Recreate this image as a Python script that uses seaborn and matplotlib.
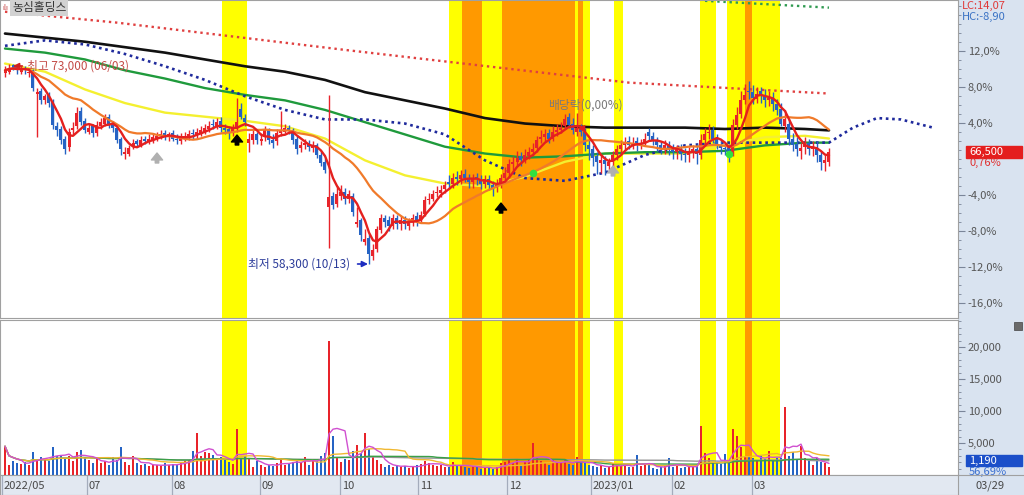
import numpy as np
import pandas as pd
import matplotlib
matplotlib.use("Agg")
import matplotlib.pyplot as plt
import matplotlib.transforms as mtransforms
from matplotlib.patches import Rectangle
import seaborn as sns

sns.set_theme(style="white")
plt.rcParams['font.family'] = ['Noto Sans CJK KR', 'DejaVu Sans']
plt.rcParams['axes.unicode_minus'] = False

# ---------------- data ----------------
title = "농심홀딩스"
base_price = 66000          # 0 % reference of the right-hand scale
month_labels = ['2022/05', '07', '08', '09', '10', '11', '12', '2023/01', '02', '03']
month_start = [-0.75, 20.5, 41.75, 63.75, 83.75, 103.25, 125.5, 146.5, 166.75, 186.75]
last_date = "03/29"

open_ = [
    72300, 72400, 72900, 72800, 72400, 72700, 72300, 72500, 70800, 71000,
    70300, 70700, 70200, 68400, 68200, 67500, 66900, 68100, 68400, 69500,
    68800, 68000, 68400, 67900, 68400, 68600, 69100, 68600, 68300, 67500,
    66400, 66400, 66900, 67300, 67000, 67500, 67300, 67400, 67500, 67700,
    67900, 67600, 67900, 67500, 67300, 67500, 67600, 67900, 67700, 67900,
    68000, 68200, 68600, 68400, 68800, 68300, 68200, 67900, 68200, 69700,
    69000, 67200, 67400, 67800, 67300, 67600, 68100, 67400, 67300, 67900,
    68000, 68300, 68100, 67500, 66800, 67000, 67200, 66800, 67000, 66300,
    65800, 62500, 63300, 62700, 63300, 63600, 63100, 63300, 61200, 61500,
    59900, 60200, 58900, 59400, 60800, 61700, 61500, 61100, 61700, 61200,
    61500, 61100, 61400, 61800, 61500, 62000, 63000, 63100, 63500, 63500,
    63800, 64300, 64200, 64700, 64500, 64900, 64600, 64300, 64700, 64500,
    64200, 64500, 64100, 63900, 64200, 64600, 65000, 65600, 65800, 66200,
    65900, 66200, 66500, 66800, 67500, 67600, 67900, 67500, 68000, 68100,
    68400, 69100, 68600, 68000, 68300, 68000, 67000, 66700, 66200, 65700,
    65900, 65500, 65800, 66300, 66700, 67000, 67300, 67000, 67300, 67000,
    67200, 68000, 67700, 67400, 67000, 66800, 67000, 66700, 66500, 66700,
    66400, 66300, 66500, 66700, 66300, 67400, 67900, 68100, 67500, 67000,
    66800, 66900, 66400, 68500, 69300, 70300, 71000, 70900, 70400, 71000,
    70700, 70300, 70500, 70000, 69700, 68400, 68600, 67500, 67100, 66600,
    66900, 67200, 66700, 66900, 66300, 65700, 65800]

high = [
    72800, 73000, 73000, 72900, 72800, 72800, 72600, 72600, 71200, 71200,
    70800, 70900, 70400, 68700, 68400, 67700, 68300, 68700, 69800, 69800,
    69000, 68600, 68600, 68800, 69000, 69300, 69300, 68800, 68500, 67600,
    66900, 67000, 67500, 67500, 67700, 67700, 67800, 67900, 68000, 68100,
    68100, 68000, 68100, 67800, 67900, 68000, 68100, 68200, 68300, 68400,
    68600, 68800, 68900, 69000, 69100, 68600, 68400, 68600, 70500, 70100,
    69300, 67900, 68100, 68000, 67900, 68400, 68300, 67800, 68200, 69500,
    68600, 68500, 68300, 67700, 67300, 67500, 67400, 67300, 67200, 66600,
    66100, 70700, 63600, 64000, 64100, 63900, 63700, 63500, 62500, 61700,
    60900, 60500, 59800, 61100, 62000, 61900, 61800, 62000, 61900, 61800,
    61800, 61700, 62000, 62100, 62200, 63300, 63500, 63700, 64000, 64100,
    64400, 64800, 65000, 65100, 65200, 65300, 64900, 64900, 65000, 64800,
    64800, 64800, 64400, 64500, 64900, 65400, 66000, 66200, 66600, 66500,
    66700, 66900, 67200, 67700, 68100, 68200, 68200, 68400, 68600, 68700,
    69300, 69400, 69000, 69400, 68600, 68300, 67400, 67000, 66500, 66300,
    66200, 66100, 66600, 67000, 67400, 67600, 67700, 67600, 67600, 67500,
    67900, 68300, 68000, 67600, 67300, 67400, 67300, 67100, 67000, 67100,
    66800, 66900, 67000, 67100, 67800, 68300, 68600, 68400, 67800, 67400,
    67200, 67100, 68900, 69800, 71000, 71500, 71700, 71400, 71300, 71300,
    71100, 71000, 70900, 70400, 70100, 69600, 68900, 67900, 67600, 67200,
    67600, 67500, 67300, 67300, 66600, 66300, 66800]

low = [
    72000, 72200, 72500, 72200, 72200, 72200, 72000, 71000, 67600, 70000,
    70000, 69800, 68200, 67700, 67100, 66400, 66600, 67800, 68200, 68500,
    67900, 67800, 67600, 67700, 68200, 68400, 68300, 68000, 67200, 66300,
    66000, 66200, 66700, 66900, 66900, 67100, 67100, 67200, 67300, 67500,
    67400, 67300, 67300, 67100, 67100, 67300, 67400, 67500, 67500, 67700,
    67800, 68000, 68200, 68200, 68000, 67800, 67500, 67700, 68000, 68900,
    68400, 66500, 67100, 67100, 67000, 67300, 67100, 66800, 67000, 67700,
    67900, 67800, 67100, 66400, 66500, 66700, 66600, 66500, 66100, 65500,
    65000, 59500, 62300, 62500, 63000, 62700, 62800, 61800, 61000, 60000,
    59700, 58300, 58600, 59200, 60600, 61000, 60700, 60900, 60900, 60800,
    60900, 60800, 61100, 61100, 61300, 61800, 62700, 62900, 63200, 63200,
    63500, 63800, 63900, 64100, 64200, 64300, 63900, 63900, 64100, 63800,
    63900, 63700, 63300, 63600, 63900, 64300, 64700, 65200, 65500, 65500,
    65700, 66000, 66200, 66500, 67200, 67300, 67200, 67300, 67700, 67900,
    68200, 68300, 67800, 67700, 67700, 66600, 65900, 65500, 64900, 65000,
    64800, 65100, 65400, 65900, 66400, 66700, 66700, 66700, 66600, 66700,
    67000, 67400, 67000, 66600, 66400, 66400, 66300, 66000, 66000, 65900,
    65800, 65800, 66100, 65600, 66000, 67000, 67500, 67200, 66700, 66400,
    66300, 65800, 66200, 68200, 69000, 70000, 70400, 70000, 70100, 70100,
    69800, 69900, 69500, 69200, 68400, 68000, 67000, 66600, 66200, 66000,
    66400, 66300, 66200, 65800, 65200, 65100, 65500]

close = [
    72500, 72700, 72700, 72500, 72600, 72500, 72400, 71200, 70900, 70300,
    70600, 70100, 68500, 68100, 67400, 66700, 68000, 68300, 69400, 68700,
    68100, 68300, 67900, 68500, 68700, 69000, 68500, 68300, 67400, 66700,
    66500, 66800, 67200, 67100, 67400, 67300, 67500, 67600, 67700, 67800,
    67700, 67800, 67500, 67400, 67600, 67700, 67800, 67800, 68000, 68100,
    68300, 68400, 68500, 68700, 68300, 68100, 68000, 68300, 68700, 69100,
    68700, 67500, 67800, 67400, 67500, 68100, 67400, 67200, 67900, 68100,
    68300, 68100, 67400, 66700, 67000, 67200, 66900, 67000, 66300, 65700,
    65200, 63200, 62600, 63400, 63600, 63100, 63400, 62100, 61400, 60400,
    60100, 59000, 59300, 60900, 61700, 61400, 61100, 61700, 61200, 61500,
    61200, 61400, 61700, 61500, 61900, 63000, 63100, 63400, 63600, 63700,
    64100, 64200, 64600, 64500, 64800, 64600, 64300, 64600, 64500, 64200,
    64500, 64100, 63900, 64100, 64600, 65000, 65600, 65800, 66100, 65900,
    66300, 66500, 66700, 67400, 67600, 67800, 67500, 68000, 68100, 68300,
    68900, 68500, 68100, 68300, 68000, 67000, 66700, 66100, 65800, 65900,
    65600, 65800, 66300, 66700, 67000, 67200, 67000, 67200, 67000, 67200,
    67500, 67700, 67400, 67000, 66800, 67000, 66700, 66500, 66700, 66400,
    66300, 66500, 66700, 66400, 67400, 67800, 68000, 67500, 67000, 66800,
    66700, 66300, 68500, 69200, 70300, 70700, 70900, 70500, 70800, 70600,
    70300, 70500, 70000, 69600, 68600, 68900, 67500, 67000, 66700, 66800,
    67200, 66700, 66900, 66300, 65800, 65900, 66500]

volume = [
    4500, 1500, 2200, 1800, 1700, 2000, 1600, 3600, 2300, 2800,
    2500, 2200, 4400, 3000, 3200, 2700, 3000, 2200, 3600, 3900,
    2600, 2400, 1800, 2500, 1900, 2200, 1500, 2800, 2400, 4400,
    2000, 1500, 3000, 1800, 1600, 1700, 1400, 1500, 1600, 1400,
    1800, 1500, 1700, 1600, 2000, 2200, 2400, 3800, 6600, 3000,
    3600, 3500, 3100, 2500, 2800, 2400, 2000, 1700, 7200, 2600,
    2900, 2500, 1200, 2200, 1500, 1300, 1600, 1400, 1800, 2600,
    1500, 1700, 2000, 2400, 2100, 2800, 1500, 2400, 2200, 3000,
    3500, 21000, 6100, 2800, 2100, 2500, 2400, 3800, 4700, 3400,
    6500, 4100, 2900, 2300, 1700, 1200, 1500, 1300, 1600, 1200,
    1400, 1100, 1300, 1500, 1700, 2200, 1900, 1500, 1400, 1600,
    1300, 1200, 2000, 1400, 1600, 1300, 1100, 1500, 1200, 1000,
    1200, 1100, 900, 1300, 1800, 2000, 2500, 1900, 2300, 1600,
    2100, 2400, 5000, 2600, 2200, 1900, 1600, 2400, 1800, 2000,
    2500, 1700, 1500, 2800, 1800, 2000, 1600, 1400, 1200, 1500,
    1100, 1300, 1800, 1600, 1400, 1500, 1200, 1300, 3100, 1400,
    1600, 1500, 1100, 1000, 1200, 1400, 2600, 1300, 1500, 1100,
    1200, 1400, 1300, 1500, 7600, 3400, 2600, 2000, 1800, 1700,
    3300, 2400, 7200, 6100, 4300, 3000, 2800, 2600, 2400, 2900,
    2500, 3700, 2300, 2600, 2700, 10600, 3000, 3600, 2400, 4500,
    2700, 2300, 1500, 2600, 2000, 1800, 1190]
volume_ratio_label = "56,69%"

# long moving averages / guide lines (sampled every 10 sessions)
line_idx = [0, 10, 20, 30, 40, 50, 60, 70, 80, 90, 100, 110, 120, 130,
            140, 150, 160, 170, 180, 190, 200, 206]
ma60 = [73000, 72400, 71100, 70100, 69400, 69100, 68800, 68400, 67500, 65900, 64800,
        64200, 64000, 64700, 65800, 66400, 66400, 66400, 67000, 67600, 67700, 67500]
ma120 = [74100, 73800, 73300, 72500, 71900, 71200, 70700, 70300, 69600, 68700, 67800,
         66900, 66400, 66100, 66200, 66400, 66500, 66500, 66600, 67000, 67200, 67200]
ma240 = [75200, 74900, 74600, 74200, 73800, 73300, 72800, 72400, 71800, 70900, 70300,
         69700, 69000, 68600, 68400, 68300, 68300, 68300, 68200, 68300, 68200, 68100]
lead_idx = line_idx + [212, 218, 224, 232]
lead_line = [74300, 74700, 74400, 73700, 72800, 71800, 70600, 69600, 68900, 68900, 68600,
             67800, 65900, 64600, 64400, 65000, 66300, 67000, 67200, 67200, 67200, 67200,
             68300, 69000, 68900, 68300]
upper_idx = [0, 28, 85, 156, 206]
upper_line = [76800, 76000, 74000, 71600, 70800]
upper2_idx = [175, 206]
upper2_line = [77600, 77100]

# highlighted periods (session index ranges)
band_start = [54.25, 111.0, 114.25, 119.25, 124.25, 142.5, 143.25, 144.5, 152.25, 173.75, 180.5, 185.0, 186.75]
band_end   = [60.5, 114.25, 119.25, 124.25, 142.5, 143.25, 144.5, 146.25, 154.5, 177.75, 185.0, 186.75, 193.75]
band_kind  = ['Y', 'Y', 'O', 'Y', 'O', 'Y', 'O', 'Y', 'Y', 'Y', 'Y', 'O', 'Y']

# signals
buy_idx, buy_price = [58, 124], [67760, 62770]
gray_idx, gray_price = [38, 152], [66440, 65490]
green_idx, green_price = [132, 181], [65000, 66400]
div_idx, div_price = [144], [68300]
high_label = "최고 73,000 (06/03)"
high_point = (2.0, 72820)
low_label = "최저 58,300 (10/13)"
low_point = (90.75, 58300)
div_label = "배당락(0,00%)"
lc_text, hc_text = "LC:14,07", "HC:-8,90"

# ---------------- figure ----------------
W, H = 1024, 495
fig = plt.figure(figsize=(W / 100, H / 100), dpi=100)
fig.patch.set_facecolor('white')


def px_axes(x0, y0, x1, y1):
    return fig.add_axes([x0 / W, 1 - y1 / H, (x1 - x0) / W, (y1 - y0) / H])


side = px_axes(958, 0, 1024, 495)
side.set_facecolor('#d9e3f0')
side.set_xticks([]); side.set_yticks([])
for s in side.spines.values():
    s.set_visible(False)

ax = px_axes(0, 0, 958, 318)
axv = px_axes(0, 320, 958, 475)
axd = px_axes(0, 475, 958, 495)

RED, BLUE = '#e8232a', '#2563c4'
idx = np.arange(len(close))
o = np.array(open_); c = np.array(close); hi = np.array(high); lo = np.array(low)
up = c >= o
cols = np.where(up, RED, BLUE)

xlim = (-1.25, 238.25)
price_per_px = base_price * 0.01 / 9
ylim = (base_price * (1 - 159 / 900), base_price * (1 + 159 / 900))

# bands
for s, e, k in zip(band_start, band_end, band_kind):
    col = '#ffff00' if k == 'Y' else '#ff9900'
    for a in (ax, axv):
        a.axvspan(s, e, color=col, lw=0, zorder=0)

# guide lines
df_long = pd.DataFrame({'i': line_idx, 'ma60': ma60, 'ma120': ma120, 'ma240': ma240})
sns.lineplot(data=df_long, x='i', y='ma60', ax=ax, color='#f4f030', linewidth=1.7, zorder=2)
sns.lineplot(data=df_long, x='i', y='ma120', ax=ax, color='#1f9a3c', linewidth=1.7, zorder=2)
sns.lineplot(data=df_long, x='i', y='ma240', ax=ax, color='#111111', linewidth=1.9, zorder=2)
sns.lineplot(x=lead_idx, y=lead_line, ax=ax, color='#1f2a9c', linewidth=1.9,
             linestyle=(0, (1, 1.4)), zorder=2)
sns.lineplot(x=upper_idx, y=upper_line, ax=ax, color='#e04040', linewidth=1.7,
             linestyle=(0, (1, 1.6)), zorder=2)
sns.lineplot(x=upper2_idx, y=upper2_line, ax=ax, color='#2f9a50', linewidth=1.7,
             linestyle=(0, (1, 1.6)), zorder=2)

# candles
ax.vlines(idx, lo, hi, colors=cols, lw=1, zorder=3)
ax.bar(idx, np.maximum(np.abs(c - o), 50), bottom=np.minimum(o, c), width=0.75,
       color=cols, linewidth=0, zorder=3)

# short moving averages
ser = pd.Series(c, dtype=float)
df_short = pd.DataFrame({'i': idx, 'ma5': ser.rolling(5, min_periods=1).mean(),
                         'ma20': ser.rolling(20, min_periods=1).mean()})
sns.lineplot(data=df_short, x='i', y='ma20', ax=ax, color='#f07a2a', linewidth=1.6, zorder=4)
sns.lineplot(data=df_short, x='i', y='ma5', ax=ax, color='#e4201e', linewidth=1.7, zorder=4)

# signals
for xi, yp in zip(buy_idx, buy_price):
    ax.annotate('', xy=(xi, yp), xytext=(xi, yp - 10 * price_per_px),
                arrowprops=dict(facecolor='black', edgecolor='black', width=2.5,
                                headwidth=8, headlength=5, shrink=0), zorder=6)
for xi, yp in zip(gray_idx, gray_price):
    ax.annotate('', xy=(xi, yp), xytext=(xi, yp - 10 * price_per_px),
                arrowprops=dict(facecolor='#b0b0b0', edgecolor='#b0b0b0', width=2.5,
                                headwidth=8, headlength=5, shrink=0), zorder=6)
ax.scatter(green_idx, green_price, s=30, color='#33e040', zorder=6, linewidths=0)
ax.scatter(div_idx, div_price, s=30, marker='<', color='#e02020', zorder=6, linewidths=0)

ax.annotate(high_label, xy=high_point, xytext=(5.5, high_point[1]), va='center', ha='left',
            fontsize=8.5, color='#c44c48',
            arrowprops=dict(arrowstyle='-|>', color='#d02020', lw=1.2, shrinkA=1, shrinkB=0))
ax.annotate(low_label, xy=low_point, xytext=(60.75, low_point[1]), va='center', ha='left',
            fontsize=8.5, color='#2c3c9a',
            arrowprops=dict(arrowstyle='-|>', color='#1c2cc0', lw=1.2, shrinkA=3, shrinkB=0))
ax.text(135.75, 69960, div_label, fontsize=8.5, color='#7a7a7a', va='center', ha='left', zorder=7)

ax.text(12 / 958, 1 - 8 / 318, title, transform=ax.transAxes, fontsize=8.5, color='#333333',
        va='center', ha='left', zorder=8,
        bbox=dict(facecolor='#d2d2d2', edgecolor='none', boxstyle='square,pad=0.15'))
ax.text(2 / 958, 1 - 8 / 318, 'ılı', transform=ax.transAxes, fontsize=5, color='#c03030',
        va='center', ha='left', zorder=8)

ax.set_xlim(*xlim); ax.set_ylim(*ylim)
ax.set_xticks([]); ax.set_xlabel(''); ax.set_ylabel('')
pct_ticks = [12, 8, 4, -4, -8, -12, -16]
ax.yaxis.tick_right()
ax.set_yticks([base_price * (1 + p / 100) for p in pct_ticks])
ax.set_yticklabels([f"{p:.1f}%".replace('.', ',') for p in pct_ticks])
ax.set_yticks([base_price * (1 + p / 100) for p in range(-17, 18)], minor=True)
ax.tick_params(axis='y', which='major', direction='out', length=5, width=0.8, color='#7a8599',
               labelsize=8, labelcolor='#555555', pad=2, right=True, left=False)
ax.tick_params(axis='y', which='minor', direction='out', length=2.5, width=0.6, color='#7a8599',
               right=True, left=False)
for s in ax.spines.values():
    s.set_color('#a0a0a0'); s.set_linewidth(0.8)

# last price box
trans_p = mtransforms.blended_transform_factory(fig.transFigure, ax.transData)
last = close[-1]
ax.add_patch(Rectangle((966 / W, last - 6 * price_per_px), 56 / W, 12 * price_per_px,
                       transform=trans_p, color='#e41e1e', clip_on=False, zorder=9))
ax.text(969 / W, last, f"{last:,}", transform=trans_p, color='white', fontsize=8,
        va='center', ha='left', clip_on=False, zorder=10)
pct = (last / base_price - 1) * 100
ax.text(969 / W, last - 11 * price_per_px, f"{pct:.2f}%".replace('.', ','), transform=trans_p,
        color='#e03030', fontsize=8, va='center', ha='left', clip_on=False, zorder=10)

fig.text(962 / W, 1 - 6 / H, lc_text, color='#e03a3a', fontsize=8, va='center', ha='left')
fig.text(962 / W, 1 - 17 / H, hc_text, color='#3a72c4', fontsize=8, va='center', ha='left')

# ---------------- volume ----------------
vol = np.array(volume, dtype=float)
axv.bar(idx, vol, width=0.68, color=cols, linewidth=0, zorder=3)
vs = pd.Series(vol)
df_v = pd.DataFrame({'i': idx,
                     'v5': vs.rolling(5, min_periods=1).mean(),
                     'v20': vs.rolling(20, min_periods=1).mean(),
                     'v60': vs.rolling(60, min_periods=1).mean(),
                     'v120': vs.rolling(120, min_periods=1).mean()})
sns.lineplot(data=df_v, x='i', y='v120', ax=axv, color='#959595', linewidth=1.0, zorder=4)
sns.lineplot(data=df_v, x='i', y='v60', ax=axv, color='#3aa048', linewidth=1.0, zorder=4)
sns.lineplot(data=df_v, x='i', y='v20', ax=axv, color='#f0b830', linewidth=1.0, zorder=4)
sns.lineplot(data=df_v, x='i', y='v5', ax=axv, color='#d050d0', linewidth=1.0, zorder=4)
axv.set_xlim(*xlim); axv.set_ylim(0, 24220)
axv.set_xticks([]); axv.set_xlabel(''); axv.set_ylabel('')
axv.yaxis.tick_right()
vt = [5000, 10000, 15000, 20000]
axv.set_yticks(vt)
axv.set_yticklabels([f"{v:,}" for v in vt])
axv.set_yticks(list(range(1000, 24001, 1000)), minor=True)
axv.tick_params(axis='y', which='major', direction='out', length=5, width=0.8, color='#7a8599',
                labelsize=8, labelcolor='#555555', pad=2, right=True, left=False)
axv.tick_params(axis='y', which='minor', direction='out', length=2.5, width=0.6, color='#7a8599',
                right=True, left=False)
for s in axv.spines.values():
    s.set_color('#a0a0a0'); s.set_linewidth(0.8)

trans_v = mtransforms.blended_transform_factory(fig.transFigure, axv.transAxes)
axv.add_patch(Rectangle((966 / W, 9 / 155), 56 / W, 11 / 155, transform=trans_v,
                        color='#1b4fc9', clip_on=False, zorder=9))
axv.text(969 / W, 14.5 / 155, f"{volume[-1]:,}", transform=trans_v, color='white', fontsize=8,
         va='center', ha='left', clip_on=False, zorder=10)
axv.text(969 / W, 3 / 155, volume_ratio_label, transform=trans_v, color='#3a6fd0', fontsize=8,
         va='center', ha='left', clip_on=False, zorder=10)
fig.add_artist(Rectangle((1014 / W, 1 - 330 / H), 8 / W, 8 / H, transform=fig.transFigure,
                         facecolor='#6a6a6a', edgecolor='#444444', lw=0.5))

# ---------------- date bar ----------------
axd.set_facecolor('#e2e8f1')
axd.set_xlim(*xlim); axd.set_ylim(0, 1)
axd.set_xticks([]); axd.set_yticks([])
for m, lab in zip(month_start, month_labels):
    axd.vlines(m, 0, 1, color='#a4acbc', lw=0.9)
    axd.text(m + 0.4, 0.45, lab, fontsize=8, color='#484848', va='center', ha='left')
for s in axd.spines.values():
    s.set_color('#a0a0a0'); s.set_linewidth(0.8)
fig.text(975 / W, 1 - 486 / H, last_date, fontsize=8, color='#484848', va='center', ha='left')
fig.add_artist(plt.Line2D([958 / W, 1], [20 / H, 20 / H], transform=fig.transFigure,
                          color='#a0a0a0', lw=0.8))

fig.savefig('out.png', dpi=100)
